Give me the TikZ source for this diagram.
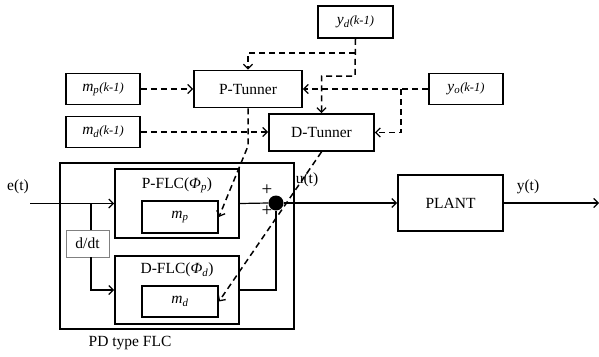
\documentclass[tikz,border=0pt]{standalone}
\usepackage{fontspec}
\setmainfont{Liberation Serif}
\usetikzlibrary{arrows.meta}
\begin{document}
\begin{tikzpicture}[x=1pt,y=-1pt,
  every node/.style={font=\fontsize{15.5}{18}\selectfont},
  blk/.style={draw, line width=1.8pt, inner sep=0pt},
  conn/.style={line width=1.2pt, -{Straight Barb[length=4.5pt,width=9pt,line width=1.2pt]}},
  plain/.style={line width=1.2pt},
  dsh/.style={line width=1.5pt, dash pattern=on 6pt off 4pt, -{Straight Barb[length=4.5pt,width=9pt,line width=1.3pt]}},
  lbl/.style={inner sep=0pt}
]
\useasboundingbox (0,0) rectangle (599,356);
\newcommand{\kmi}{\fontsize{12.5}{14}\selectfont\itshape(k-1)}
% top boxes
\node[blk, minimum width=74pt, minimum height=31pt] (mpk) at (103,89) {\textit{m}\textsubscript{\textit{p}}\kmi};
\node[blk, minimum width=74pt, minimum height=31pt] (mdk) at (103,132) {\textit{m}\textsubscript{\textit{d}}\kmi};
\node[blk, minimum width=108pt, minimum height=37pt] (ptun) at (248,89) {P-Tunner};
\node[blk, minimum width=105pt, minimum height=37pt] (dtun) at (321.5,132.5) {D-Tunner};
\node[blk, minimum width=75pt, minimum height=32pt] (yd) at (355.5,22) {\textit{y}\textsubscript{\textit{d}}\kmi};
\node[blk, minimum width=74pt, minimum height=31pt] (yo) at (466,89) {\textit{y}\textsubscript{\textit{o}}\kmi};
% controller
\node[blk, minimum width=234pt, minimum height=166pt] (pd) at (177,246) {};
\node[blk, minimum width=124pt, minimum height=69pt] (pflc) at (177,203.5) {};
\node[lbl] (pflct) at (177,185) {P-FLC(\textit{Φ}\textsubscript{\textit{p}})};
\node[blk, minimum width=76pt, minimum height=32pt] (mpin) at (180,217) {\textit{m}\textsubscript{\textit{p}}};
\node[blk, minimum width=124pt, minimum height=68pt] (dflc) at (177,290) {};
\node[lbl] (dflct) at (177,270) {D-FLC(\textit{Φ}\textsubscript{\textit{d}})};
\node[blk, minimum width=76pt, minimum height=31pt] (mdin) at (180,301.5) {\textit{m}\textsubscript{\textit{d}}};
\node[draw=gray, line width=0.8pt, minimum width=43pt, minimum height=27pt, inner sep=0pt] (ddt) at (87.5,243.5) {d/dt};
\node[circle, fill=black, minimum size=15pt, inner sep=0pt] (sum) at (276,203) {};
\node[blk, minimum width=105pt, minimum height=56pt] (plant) at (450.5,203) {PLANT};
% labels
\node[lbl] (et) at (18,187) {e(t)};
\node[lbl] (ut) at (307,180) {u(t)};
\node[lbl] (yt) at (528,187) {y(t)};
\node[lbl, font=\fontsize{19}{20}\selectfont] (p1) at (267,190) {+};
\node[lbl, font=\fontsize{19}{20}\selectfont] (p2) at (267,211) {+};
\node[lbl] (pdl) at (130,343) {PD type FLC};
% coordinates
\coordinate (ydk) at (355,76);
\coordinate (ydb) at (355,53);
\coordinate (yob) at (401,89);
\coordinate (pbend) at (248,146);
\coordinate (ein) at (30,203.5);
\coordinate (br) at (91,203.5);
\coordinate (yout) at (599,203);
% dashed connectors
\draw[dsh] (mpk.east) -- (mpk.east -| ptun.west);
\draw[dsh] (mdk.east) -- (mdk.east -| dtun.west);
\draw[dsh] (yd.south) -- (ydk) -| (dtun.north);
\draw[dsh] (ydb) -| (ptun.north);
\draw[dsh] (yo.west) -- (ptun.east);
\draw[dsh] (yob) |- (dtun.east);
\draw[dsh] (ptun.south) -- (pbend) -- (mpin.east);
\draw[dsh] (dtun.south) -- (mdin.east);
% solid connectors
\draw[conn] (ein) -- (pflc.west);
\draw[plain] (br) -- (br |- ddt.north);
\draw[conn] (br |- ddt.south) |- (dflc.west);
\draw[plain] (pflc.east) -- (sum.west);
\draw[plain] (dflc.east) -| (sum.south);
\draw[conn] (sum.east) -- (plant.west);
\draw[conn] (plant.east) -- (yout);
\end{tikzpicture}
\end{document}
